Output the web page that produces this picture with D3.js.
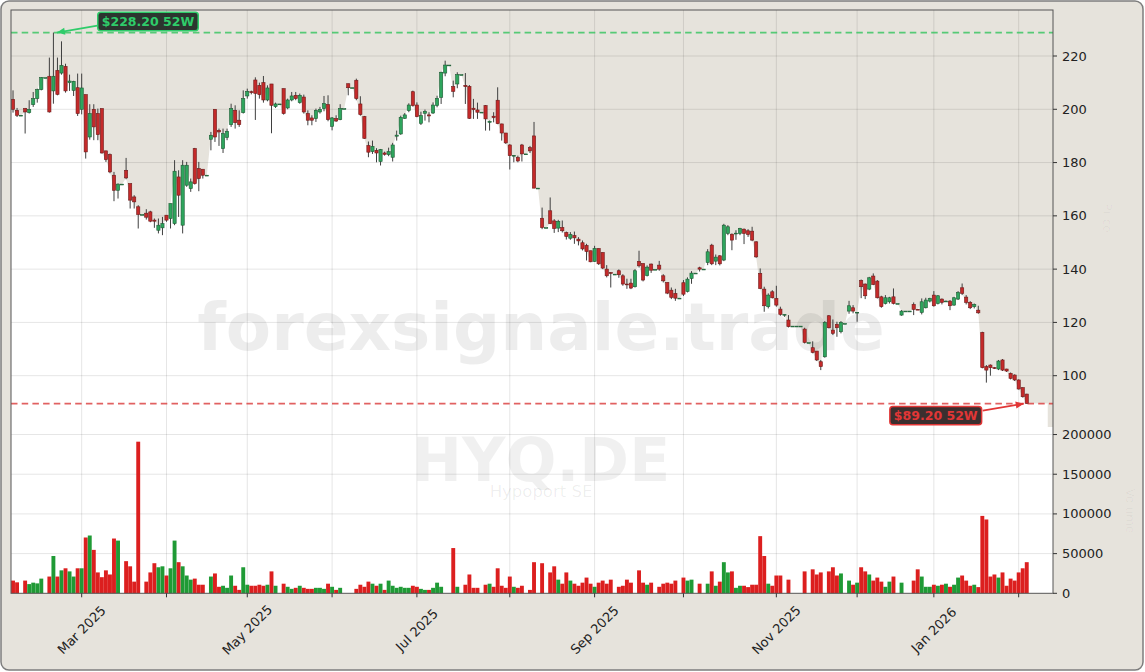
<!DOCTYPE html>
<html><head><meta charset="utf-8">
<script src="https://cdn.jsdelivr.net/npm/d3@7"></script>
<style>html,body{margin:0;padding:0;background:#fff;} svg{display:block;font-family:"DejaVu Sans",sans-serif;}</style>
</head><body><svg id="c" width="1145" height="672"></svg>
<script>
// ---- data (trading-day index 0 = 6 Feb 2025 ... 251 = 4 Feb 2026) ----
const open = [
203.75,199.6,197.75,200.25,198.75,201.75,204,207.4,211.9,212.4,
206.9,214.6,213.6,216.1,210,207.1,208.1,200,205.5,189.6,
200,198.4,200.25,184.4,183,175.25,169.6,171.9,177.1,172.1,
167.1,163.4,160.5,161,161.5,158.4,154.6,155.5,160.25,159,
157.1,174.6,156.5,171.5,170.25,185.25,177.75,177.5,175.25,188.75,
200,192.1,185.25,189.4,194.25,199.6,195.9,198.75,205,206.6,
211,209,210,203.5,209.5,201,202,207.75,200.5,203.5,
205.25,202.5,204.6,198.4,196.75,196.5,199,200.25,201.75,193.6,
196.5,196.1,200.25,209.6,208.1,210.9,202,197.25,186.4,184.1,
184.6,180.4,183.6,183,182,189.9,190.75,196.6,199.5,206.6,
201.6,194.75,198.5,197.9,198.6,201.4,204.5,213.6,216.6,208.5,
209.5,213,209,208.6,200.4,199.75,198.9,201.4,195.1,197.4,
203.4,194.5,191.1,186.6,182.6,181.9,186.6,183.25,185.6,190,
170.4,159.1,155.6,161.9,158.1,155.4,155.6,153.75,151.6,152.6,
151.25,149.9,148.9,146.9,142.9,147.75,146.25,140,138.7,138.1,
139.4,137.5,134.4,134.75,133.4,142.9,142.1,137.6,141.9,139.9,
141.5,137.5,135,132.1,130.9,129.1,134.9,131.6,136.5,138.5,
140.5,140,142.5,149,143,145,143.4,153.4,153.1,153.2,
153.4,155,154.4,154.25,150.25,138.4,132.5,125.9,131.5,129,
125,123,120.9,118.6,118.6,118.6,117.5,112.4,110.5,109.25,
105.25,107.1,122.5,117.1,119.25,116.5,119.6,124.25,125.5,123.6,
135.75,134.4,132.5,137.4,135.5,129.6,127.1,127.75,129.6,127.1,
122.75,124.25,124.25,126.75,124.9,123.75,125.5,128,130.25,127.1,
128.75,127.9,128,126.5,128.75,133,129.5,127.5,125.9,124.6,
116.25,103.4,104,103,102.5,105.9,102.5,100.9,100.25,98.4,
95.5,93.1];
const high = [
207.1,200.5,197.75,200.5,203.4,206.5,207.75,212.1,211.9,219.4,
228.8,219.4,225.5,217.1,213,210.7,213.4,213.4,205.5,201.9,
201.9,200.25,200.25,184.4,183.4,176.5,172.2,171.9,181.75,172.1,
167.75,164,160.5,162.5,161.9,159,159,159.6,160.25,164.6,
180.9,177.1,180.9,180.25,174,185.5,180.25,177.5,175.25,191.5,
200,192.75,192.75,192.75,202.1,201.5,199.6,207.1,207.75,207,
212,210,212.5,209,209.5,202.5,202,207.75,204,206.5,
206.5,205.9,205.5,199.6,197.75,200.25,200.9,205,205.25,197.1,
197.75,201.9,200.25,209.6,208.1,211.5,204.9,197.5,187.9,188.25,
185.4,185.1,184.1,185.6,187.4,192,197.6,198.6,202.25,207,
202.6,199.1,199.9,198.9,202.6,205.1,214.1,218.25,216.6,210.75,
213.9,213,213.6,209.1,203.9,202.5,198.9,201.6,195.75,198.9,
208.25,194.6,191.1,186.9,182.8,182.6,187,183.25,186.25,195.25,
170.4,163.1,155.6,166.9,158.75,158.5,158.25,154.1,153.9,154.1,
152,150.75,149.5,146.9,148.75,147.75,146.25,141.5,138.9,138.1,
139.9,138.1,136.4,136.4,140,146.9,142.1,141.4,142.1,139.9,
143.1,138.1,135,133.1,132.6,129.1,135.9,136.9,139.25,138.5,
140.9,140,147.5,149.5,145.5,145.25,157,156.5,153.4,154.6,
155.5,155.25,155,155.9,150.5,140.25,133.4,130.9,132.1,133.75,
125.9,123,122.75,118.6,118.6,118.6,118,112.4,112.9,109.25,
105.9,120.5,122.75,121.1,120.25,120.5,119.6,128.1,126.5,123.9,
136.1,134.6,137.1,138.4,135.9,130,130.25,129.6,132.75,127.1,
124.6,124.25,124.25,127.5,125,129,129.25,129.25,131.75,130.25,
129,128.2,128.4,129.6,131.75,134.6,130.25,128,127.1,126.25,
116.5,104,104.25,103.2,105.9,106.25,102.6,101.2,100.5,98.6,
95.6,93.2];
const low = [
198.75,197.1,197.75,190.9,198.4,200.9,202.5,207.1,211.9,198.75,
202.1,205.25,213,206.25,206.9,205,197.5,198.1,181.5,188.6,
188.4,188.4,183.4,180.25,176,165.5,166.5,171.9,173.75,162.75,
162.75,155.25,160.5,158.6,157.6,155.5,153.4,152.75,157.75,155.25,
156.5,159.6,153.4,170.9,169,171.75,169.25,174,175.25,184.6,
187.75,186.25,183.6,188.4,193.4,192.75,193.4,198.4,204,205.6,
196,204,202.5,203,191,200.5,202,198,200,203,
203.4,202.1,198.4,194,194,195.25,198.4,199.25,195.5,192.1,
195.25,195.9,200.25,205.25,208.1,203.4,197.6,188.9,182,183.25,
180.1,178.9,182.6,182.4,180.4,188.25,190.4,196.4,198.9,201,
197,194.1,195.75,195.1,198.25,200.75,202,212.4,216.6,204.5,
207.9,213,202,196.4,196.4,196.4,198.9,192,192,195.1,
194.4,188.25,187,177.4,180.1,180.1,180.4,183.25,183.6,170.4,
170.4,155,155.6,156.9,153.6,153.9,153.75,151.1,151,149.5,
148.9,147,143.25,142.6,142.75,141.6,140,136.9,133.1,138.1,
136.75,133.75,132.6,132.5,133.1,140.6,135.4,137.25,138.6,139.9,
139.4,135,130.6,128.75,128.1,129.1,129.9,131.25,134.5,138.5,
139.1,140,141.5,141.5,141.5,141.4,143,152.75,147.1,151,
152.75,149.4,152.1,150.5,144.25,132.5,124,125.25,129,125.9,
122.5,122.1,118.1,118.6,118.6,118.6,112.1,112.4,108.4,105.5,
102.1,106.75,117.75,115.25,114.6,115.9,119.6,123.25,123.4,120.25,
129.1,128.75,132.1,134,129,125.5,126.75,127.1,126.75,127.1,
122.5,124.25,124.25,122.75,124.7,123,125.25,127.5,125.9,126.75,
126.75,127.8,124.6,126.25,128.4,130.25,126.75,125,125.25,123.25,
102.75,97.4,100,102.5,102.1,101.75,101.4,98.6,98,94.8,
91.8,89.5];
const close = [
200,197.75,197.75,199,200,204,207.4,211.9,211.9,199,
212.4,205.6,216.5,206.9,210.6,210.5,198.4,208,184,198.4,
193.4,190.5,183.6,181.1,176.5,169.6,171.9,171.9,174.25,165.9,
165.25,160.5,160.5,159.5,158,158,156.5,157.1,158.4,164.6,
176.75,167.75,179,179,172.75,172.1,174,175.25,175.25,190.25,
189.6,191.5,190.9,191.75,200.25,195,194.25,204,206.75,206.25,
206,205.5,203.5,208,201.5,202,202,198.4,203.5,205,
204,205.25,199,195.9,195.9,199.6,200,202.1,196.1,196.75,
195.6,200.25,200.25,208.1,208.1,204,198,189.1,183.9,186.1,
183.6,184.9,183.1,184.1,186.6,190.3,197,197.9,201.6,201.4,
197.25,197.6,199.2,197.5,201.6,204.1,213.9,216.6,216.6,206.75,
213,213,208.5,196.6,199.9,198.9,198.9,196.4,195.5,196.9,
194.6,191.1,187.4,182.6,182.7,180.6,183.25,183.25,184.4,170.4,
170.4,155.6,155.6,157.1,155.25,157.9,154.4,152.25,153,151.75,
150.6,147.6,146.6,142.75,147.75,142,140.4,137.5,138.5,138.1,
137.9,134.4,134.1,132.9,139.4,141.25,135.9,140.75,139.6,139.9,
140,135.6,131,129.4,129.1,129.1,130.6,136.25,138.5,138.5,
140,140,146.5,142,144.5,142,156.5,155.9,150.9,153.5,
155.25,153.4,153,150.9,144.6,132.75,126.25,130.25,129.25,126.5,
123,123,118.4,118.6,118.6,118.6,112.5,112.4,108.75,105.9,
103.4,120,118,115.9,118,120,119.6,126.25,124.25,123.8,
133.4,130,136.75,134.25,129.25,125.9,129.25,129.25,127.1,127.1,
124.25,124.25,124.25,124.9,124.8,127.75,128.4,129,126.25,130,
127.5,128,126.25,129.25,131.25,130.9,127.5,125.5,126.75,123.6,
103,102.1,103,102.75,105.5,102.1,101.75,99,98.4,95,
92.1,89.6];
const volume = [
16000,13800,0,16000,11600,13400,12500,18500,0,21100,
47000,21100,28900,31500,27600,21100,31500,31500,70300,72800,
54700,26300,20300,28900,23700,69000,66400,0,40500,34000,
14700,191000,0,14700,26300,37900,32800,34000,22400,31500,
66400,39200,34000,22400,17200,18500,10800,10800,0,21100,
25000,8200,9500,6900,22400,9500,4300,32800,10800,9500,
9500,10800,9500,10800,27600,9500,0,12100,8200,5600,
6900,9500,6900,5600,5600,6900,6900,5600,12100,8200,
4300,6900,0,0,0,5600,10800,8200,14700,12100,
9500,12100,4300,16000,9500,6900,8200,6900,6900,9500,
8200,5600,4300,4300,6900,13400,8200,0,0,57000,
8200,0,10800,23700,6900,6900,0,10800,12100,8200,
31500,9500,6900,21100,8200,6900,9500,0,4300,39200,
0,37900,0,26300,34000,17200,12100,26300,16000,12100,
9500,13400,19800,12100,8200,13400,16000,12100,17200,0,
8200,9500,17200,13400,0,28900,13400,10800,13400,0,
8200,12100,13400,12100,16000,0,19800,16000,17200,0,
12100,0,12100,27600,9500,14700,39200,26300,27600,6900,
9500,9500,7800,10800,10800,72000,47000,12100,9500,22400,
22400,0,17200,0,0,0,27600,0,30200,23700,
26300,0,27600,32800,22400,25000,0,16000,10800,13400,
32800,27600,23700,16000,19800,14700,8200,14700,21100,0,
13400,0,0,16000,30200,21100,8200,8200,10800,9500,
10800,12100,8200,10800,19800,22400,16000,9500,10800,7800,
97500,93000,21100,23700,19800,26300,9500,18500,16000,26300,
31500,39200];

const monthTickIdx    = [17, 38, 58, 79, 100, 123, 144, 166, 189, 209, 228, 249];
const monthTickLabels = ["Mar 2025","","May 2025","","Jul 2025","","Sep 2025","","Nov 2025","","Jan 2026",""];
const priceTicks  = [100, 120, 140, 160, 180, 200, 220];
const volumeTicks = [0, 50000, 100000, 150000, 200000];
const extremeLabels = ["$228.20 52W", "$89.20 52W"];
const ticker = "HYQ.DE", companyName = "Hypoport SE", watermark = "forexsignale.trade";

// ---- layout ----
const L = 11, R = 1053, T = 10, PB = 427, VB = 593.3;
const BEIGE = "#e6e3dc";
const svg = d3.select("#c");
const n = close.length;
const x  = d3.scaleLinear().domain([-0.5, 257.5]).range([L, R]);
const y  = d3.scaleLinear().domain([80.74, 237.27]).range([PB, T]);
const yv = d3.scaleLinear().domain([0, 209500]).range([VB, PB]);

// figure background
svg.append("rect").attr("x", 1).attr("y", 1).attr("width", 1142).attr("height", 669)
  .attr("rx", 8).attr("fill", BEIGE).attr("stroke", "#7d7d7d").attr("stroke-width", 1.5);

// price panel (beige) + white area below the close line
svg.append("rect").attr("x", L).attr("y", T).attr("width", R - L).attr("height", PB - T).attr("fill", BEIGE);
const idx = d3.range(n);
const areaPts = [[L, close[0]]].concat(idx.map(i => [x(i), close[i]])).concat([[x(n - 1) + 21, close[n - 1]]]);
svg.append("path")
  .attr("d", d3.area().x(d => d[0]).y0(PB).y1(d => y(d[1]))(areaPts))
  .attr("fill", "#ffffff");
// volume panel
svg.append("rect").attr("x", L).attr("y", PB).attr("width", R - L).attr("height", VB - PB).attr("fill", "#ffffff");

// grid
const grid = svg.append("g").attr("stroke", "#000").attr("stroke-opacity", 0.1).attr("stroke-width", 1);
priceTicks.forEach(v => grid.append("line").attr("x1", L).attr("x2", R).attr("y1", y(v)).attr("y2", y(v)));
volumeTicks.slice(1).forEach(v => grid.append("line").attr("x1", L).attr("x2", R).attr("y1", yv(v)).attr("y2", yv(v)));
monthTickIdx.forEach(i => grid.append("line").attr("x1", x(i)).attr("x2", x(i)).attr("y1", T).attr("y2", VB));

// watermarks
svg.append("text").attr("x", 541).attr("y", 350).attr("text-anchor", "middle")
  .attr("font-size", 66).attr("font-weight", "bold").attr("fill", "#000").attr("fill-opacity", 0.07).text(watermark);
svg.append("text").attr("x", 541).attr("y", 481).attr("text-anchor", "middle")
  .attr("font-size", 60).attr("font-weight", "bold").attr("fill", "#000").attr("fill-opacity", 0.06).text(ticker);
svg.append("text").attr("x", 541).attr("y", 497).attr("text-anchor", "middle")
  .attr("font-size", 16.5).attr("fill", "#000").attr("fill-opacity", 0.07).text(companyName);

// 52W lines
const hiVal = d3.max(high), loVal = d3.min(low);
const hiIdx = high.indexOf(hiVal), loIdx = low.indexOf(loVal);
svg.append("line").attr("x1", L).attr("x2", R).attr("y1", y(hiVal)).attr("y2", y(hiVal))
  .attr("stroke", "#3cc564").attr("stroke-opacity", 0.85).attr("stroke-width", 1.8).attr("stroke-dasharray", "6.5,4.2");
svg.append("line").attr("x1", L).attr("x2", R).attr("y1", y(loVal)).attr("y2", y(loVal))
  .attr("stroke", "#d93a3a").attr("stroke-opacity", 0.8).attr("stroke-width", 1.8).attr("stroke-dasharray", "6.5,4.2");

// candles
const UP = "#2ea55d", DOWN = "#c42a2a";
const cg = svg.append("g");
idx.forEach(i => {
  const up = close[i] >= open[i];
  cg.append("line").attr("x1", x(i)).attr("x2", x(i)).attr("y1", y(high[i])).attr("y2", y(low[i]))
    .attr("stroke", "#3f3f3f").attr("stroke-width", 1);
  const top = y(Math.max(open[i], close[i])), bot = y(Math.min(open[i], close[i]));
  cg.append("rect").attr("x", x(i) - 1.6).attr("y", top).attr("width", 3.2).attr("height", Math.max(bot - top, 0.8))
    .attr("fill", up ? UP : DOWN).attr("stroke", up ? "#1d5a33" : "#6e1a1a").attr("stroke-width", 0.6);
});

// volume bars
const vg = svg.append("g");
idx.forEach(i => {
  if (!volume[i]) return;
  const up = close[i] >= open[i];
  vg.append("rect").attr("x", x(i) - 1.95).attr("y", yv(volume[i])).attr("width", 3.9)
    .attr("height", VB - yv(volume[i])).attr("fill", up ? "#1f9a35" : "#dc1f1f");
});

// frame
svg.append("rect").attr("x", L).attr("y", T).attr("width", R - L).attr("height", VB - T)
  .attr("fill", "none").attr("stroke", "#555").attr("stroke-width", 1);

// axes ticks + labels
const ax = svg.append("g").attr("font-size", 13).attr("fill", "#222");
priceTicks.forEach(v => {
  ax.append("line").attr("x1", R).attr("x2", R + 4).attr("y1", y(v)).attr("y2", y(v)).attr("stroke", "#333");
  ax.append("text").attr("x", R + 9).attr("y", y(v)).attr("dominant-baseline", "central").text(v);
});
volumeTicks.forEach(v => {
  ax.append("line").attr("x1", R).attr("x2", R + 4).attr("y1", yv(v)).attr("y2", yv(v)).attr("stroke", "#333");
  ax.append("text").attr("x", R + 9).attr("y", yv(v)).attr("dominant-baseline", "central").text(v);
});
monthTickIdx.forEach((i, k) => {
  ax.append("line").attr("x1", x(i)).attr("x2", x(i)).attr("y1", VB).attr("y2", VB + 4).attr("stroke", "#333");
  if (monthTickLabels[k]) {
    ax.append("text").attr("transform", `translate(${x(i)},630) rotate(-45)`)
      .attr("text-anchor", "middle").attr("dominant-baseline", "central").text(monthTickLabels[k]);
  }
});
// faint side labels
svg.append("text").attr("transform", "translate(1103,218) rotate(90)").attr("text-anchor", "middle")
  .attr("font-size", 12).attr("fill", "#000").attr("fill-opacity", 0.04).text("Price");
svg.append("text").attr("transform", "translate(1126,511) rotate(90)").attr("text-anchor", "middle")
  .attr("font-size", 12).attr("fill", "#000").attr("fill-opacity", 0.04).text("Volume");

// annotations
function annot(text, cx, cy, col, bg, tipX, tipY, fromX, fromY) {
  const g = svg.append("g");
  g.append("line").attr("x1", fromX).attr("y1", fromY).attr("x2", tipX).attr("y2", tipY)
    .attr("stroke", col).attr("stroke-width", 1.8);
  const ang = Math.atan2(tipY - fromY, tipX - fromX);
  const hl = 8, hw = 3.5;
  const bx = tipX - hl * Math.cos(ang), by = tipY - hl * Math.sin(ang);
  g.append("path").attr("d", `M${tipX},${tipY}L${bx - hw * Math.sin(ang)},${by + hw * Math.cos(ang)}L${bx + hw * Math.sin(ang)},${by - hw * Math.cos(ang)}Z`)
    .attr("fill", col);
  const t = g.append("text").attr("x", cx).attr("y", cy).attr("text-anchor", "middle").attr("dominant-baseline", "central")
    .attr("font-size", 12.5).attr("font-weight", "bold").attr("fill", col).text(text);
  const w = t.node().getComputedTextLength();
  g.insert("rect", "text").attr("x", cx - w / 2 - 4).attr("y", cy - 9.2).attr("width", w + 8).attr("height", 18.4)
    .attr("rx", 3).attr("fill", bg).attr("fill-opacity", 0.92).attr("stroke", col).attr("stroke-width", 1.5);
}
annot(extremeLabels[0], x(hiIdx) + 94.6, y(hiVal) - 11, "#2fcc6a", "#1c2620", x(hiIdx) + 3.5, y(hiVal), x(hiIdx) + 44, y(hiVal) - 7);
annot(extremeLabels[1], x(loIdx) - 91, y(loVal) + 12, "#e23636", "#2a1d1d", x(loIdx) - 3, y(loVal), x(loIdx) - 44, y(loVal) + 7);
</script></body></html>
